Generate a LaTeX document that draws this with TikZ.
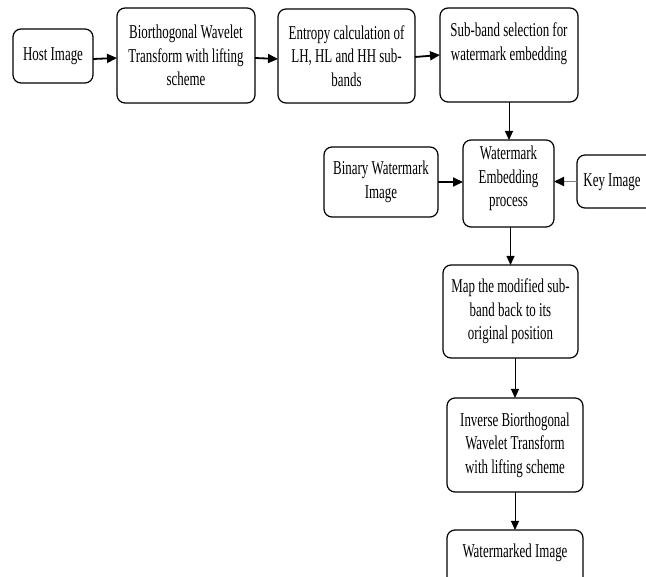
\documentclass[tikz,border=0pt]{standalone}
\usepackage{fontspec}
\setmainfont[FakeStretch=0.66]{Liberation Serif}
\usetikzlibrary{arrows.meta}
\begin{document}
\begin{tikzpicture}[x=1pt,y=-1pt,
  fnt/.style={font=\fontsize{19.6}{23.5}\selectfont},
  box/.style={draw, rounded corners=8pt, line width=1.2pt, inner sep=0pt, outer sep=0pt, align=center, fnt},
  txt/.style={inner sep=0pt, align=center, fnt},
  arr/.style={-{Triangle[length=9pt,width=8pt]}, line width=1pt},
  harr/.style={-{Triangle[length=10pt,width=9pt]}, line width=1.8pt},
  garr/.style={-{Triangle[length=10pt,width=9pt,color=black]}, line width=1.8pt, draw=gray}]
\useasboundingbox (0,0) rectangle (646,577);
\clip (0,0) rectangle (646,577);
% top row
\node[box, minimum width=80pt, minimum height=54pt] (host) at (53,56) {Host Image};
\node[box, minimum width=138pt, minimum height=95pt] (bwt) at (186,55.5) {Biorthogonal Wavelet\\Transform with lifting\\scheme};
\node[box, minimum width=137pt, minimum height=94pt] (ent) at (346.5,56) {Entropy calculation of\\LH, HL and HH sub-\\bands};
\node[box, minimum width=138pt, minimum height=94pt] (sub) at (509,55) {};
\node[txt] (subt) at (509,43.5) {Sub-band selection for\\watermark embedding};
% middle row
\node[box, minimum width=91pt, minimum height=87pt] (we) at (508.5,183.5) {};
\node[txt] (wet) at (508.5,178.5) {Watermark\\Embedding\\process};
\node[box, minimum width=114pt, minimum height=70pt] (bin) at (381,182) {Binary Watermark\\Image};
\node[box, minimum width=78pt, minimum height=53pt] (key) at (616,181.5) {};
\node[txt] (keyt) at (612,182) {Key Image};
% column
\node[box, minimum width=135pt, minimum height=93pt] (map) at (510.5,311.5) {Map the modified sub-\\band back to its\\original position};
\node[box, minimum width=136pt, minimum height=94pt] (inv) at (515,445) {Inverse Biorthogonal\\Wavelet Transform\\with lifting scheme};
\node[box, minimum width=136pt, minimum height=90pt] (wm) at (515,575) {};
\node[txt] (wmt) at (515,553) {Watermarked Image};
% connectors
\draw[harr] ([yshift=-3pt]host.east) -- ([yshift=-2.5pt]bwt.west);
\draw[harr] ([yshift=-2.5pt]bwt.east) -- ([yshift=-3pt]ent.west);
\draw[harr] ([yshift=-1pt]ent.east) -- ([yshift=0pt]sub.west);
\draw[arr] (sub.south) -- (sub.south |- we.north);
\draw[harr] (bin.east) -- (bin.east -| we.west);
\draw[garr] (key.west) -- (key.west -| we.east);
\draw[arr] (map.north |- we.south) -- (map.north);
\draw[arr] (inv.north |- map.south) -- (inv.north);
\draw[arr] (inv.south) -- (wm.north);
\end{tikzpicture}
\end{document}
